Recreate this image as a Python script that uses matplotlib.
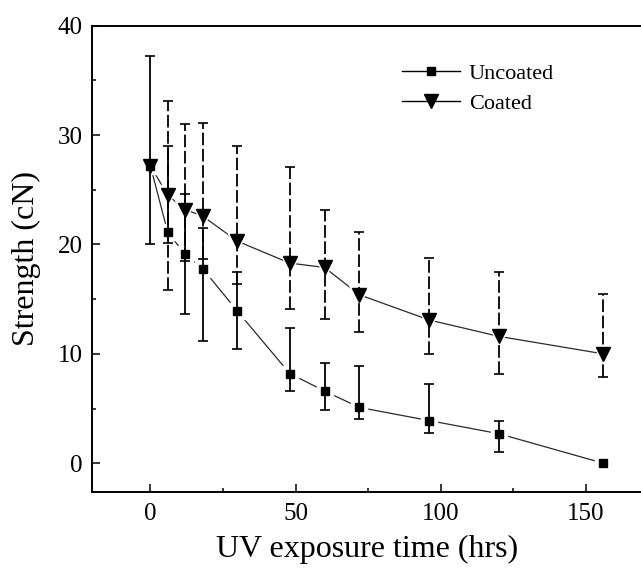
import matplotlib
matplotlib.use("Agg")
import matplotlib.pyplot as plt
from matplotlib.lines import Line2D
from matplotlib.ticker import MultipleLocator

# data
hours = [0, 6, 12, 18, 30, 48, 60, 72, 96, 120, 156]

uncoated = [27.2, 21.1, 19.1, 17.8, 13.9, 8.2, 6.6, 5.1, 3.9, 2.7, 0.0]
uncoated_hi = [37.2, 29.0, 24.6, 21.5, 17.5, 12.4, 9.2, 8.9, 7.2, 3.9, 0.0]
uncoated_lo = [20.0, 20.1, 13.6, 11.2, 10.4, 6.6, 4.9, 4.0, 2.8, 1.0, 0.0]

coated = [27.2, 24.5, 23.2, 22.6, 20.3, 18.3, 17.9, 15.4, 13.1, 11.6, 10.0]
coated_hi = [27.2, 33.1, 31.0, 31.1, 29.0, 27.1, 23.2, 21.1, 18.8, 17.5, 15.5]
coated_lo = [27.2, 15.8, 18.5, 18.7, 16.4, 14.1, 13.2, 12.0, 10.0, 8.2, 7.9]

plt.rcParams["font.family"] = ["Liberation Serif", "DejaVu Serif"]

fig = plt.figure(figsize=(6.41, 5.73), dpi=100)
ax = fig.add_axes([0.144, 0.142, 0.856, 0.813])


def draw_series(y, hi, lo, marker, ms, bar_style):
    # connecting line with a white gap around each marker
    ax.plot(hours, y, "-", color="#2a2a2a", lw=0.9, zorder=1)
    ax.plot(hours, y, marker, ls="none", mfc="white", mec="white", ms=ms + 5, zorder=2)
    # only points that actually have an error bar
    idx = [i for i in range(len(hours)) if hi[i] != y[i] or lo[i] != y[i]]
    xs = [hours[i] for i in idx]
    ys = [y[i] for i in idx]
    err = [[y[i] - lo[i] for i in idx], [hi[i] - y[i] for i in idx]]
    eb = ax.errorbar(xs, ys, yerr=err, fmt="none", ecolor="black",
                     elinewidth=1.3, capsize=3.6, capthick=1.2, zorder=3)
    eb[2][0].set_linestyle(bar_style)
    ax.plot(hours, y, marker, ls="none", color="black", ms=ms, zorder=4)


draw_series(uncoated, uncoated_hi, uncoated_lo, "s", 6, "-")
draw_series(coated, coated_hi, coated_lo, "v", 9.5, (0, (7, 2)))

ax.set_xlim(-20, 169)
ax.set_ylim(-2.6, 40)
ax.xaxis.set_major_locator(MultipleLocator(50))
ax.xaxis.set_minor_locator(MultipleLocator(25))
ax.yaxis.set_major_locator(MultipleLocator(10))
ax.yaxis.set_minor_locator(MultipleLocator(5))
ax.tick_params(which="both", direction="in", width=1.1, labelsize=18)
ax.tick_params(which="major", length=6)
ax.tick_params(which="minor", length=3)
ax.tick_params(axis="x", pad=8)
ax.tick_params(axis="y", pad=7)
ax.spines["right"].set_visible(False)
for s in ["left", "top", "bottom"]:
    ax.spines[s].set_linewidth(1.4)

ax.set_xlabel("UV exposure time (hrs)", fontsize=23, labelpad=7)
ax.set_ylabel("Strength (cN)", fontsize=23, labelpad=12)

handles = [
    Line2D([], [], color="black", lw=1.0, marker="s", ms=6),
    Line2D([], [], color="black", lw=1.0, marker="v", ms=9.5),
]
ax.legend(handles, ["Uncoated", "Coated"], loc="upper left",
          bbox_to_anchor=(402 / 641, 1 - 63 / 573), bbox_transform=fig.transFigure,
          frameon=False, fontsize=16, handlelength=2.6, handletextpad=0.4,
          borderpad=0, borderaxespad=0, labelspacing=0.45)

fig.savefig("out.png", dpi=100)
